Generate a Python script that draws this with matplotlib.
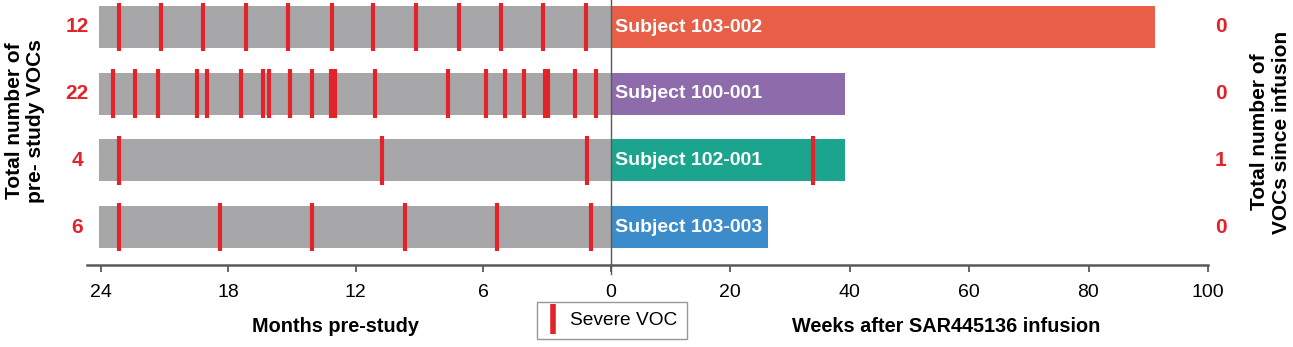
import matplotlib
matplotlib.use("Agg")
import matplotlib.pyplot as plt
from matplotlib.lines import Line2D

# data
subjects = ["Subject 103-002", "Subject 100-001", "Subject 102-001", "Subject 103-003"]
pre_counts = [12, 22, 4, 6]
post_counts = [0, 0, 1, 0]
pre_span = [24.1, 24.1, 24.1, 24.1]          # months of pre-study history
weeks_followup = [91.1, 39.2, 39.2, 26.4]    # weeks after infusion
pre_vocs = [
    [23.16, 21.14, 19.17, 17.14, 15.16, 13.13, 11.16, 9.15, 7.15, 5.16, 3.16, 1.15],
    [23.41, 22.38, 21.29, 19.46, 18.99, 17.38, 16.38, 16.10, 15.11, 14.07, 13.15,
     12.97, 11.11, 7.67, 5.84, 4.95, 4.05, 3.10, 3.00, 2.92, 1.69, 0.70],
    [23.16, 10.78, 1.09],
    [23.16, 18.40, 14.03, 9.66, 5.32, 0.94],
]
post_vocs = [[], [], [33.9], []]
month_ticks = [24, 18, 12, 6, 0]
week_ticks = [20, 40, 60, 80, 100]

colors = ["#E95E47", "#8E6BAA", "#1BA58E", "#3C8BCB"]
gray = "#A7A7A9"
red = "#E2232A"
plt.rcParams["font.family"] = ["Liberation Sans", "DejaVu Sans"]

W, H = 1293, 347
fig = plt.figure(figsize=(W / 100, H / 100), dpi=100)

ybot = 1 - 265 / H
axl = fig.add_axes([87 / W, ybot, (610.5 - 87) / W, 265 / H])
axr = fig.add_axes([610.5 / W, ybot, (1208 - 610.5) / W, 265 / H], sharey=axl)

rows = list(range(len(subjects)))
bh = 0.63
mh = 0.365

for i in rows:
    axl.barh(i, pre_span[i], left=0, height=bh, color=gray)
    axl.vlines(pre_vocs[i], i - mh, i + mh, color=red, lw=3.0)
    axr.barh(i, weeks_followup[i], left=0, height=bh, color=colors[i])
    if post_vocs[i]:
        axr.vlines(post_vocs[i], i - mh, i + mh, color=red, lw=3.0)
    axr.text(0.8, i, subjects[i], color="white", fontsize=14, fontweight="bold",
             va="center", ha="left")

axl.set_xlim(24.645, 0)
axr.set_xlim(0, 100)
axl.set_ylim(3.568, -0.405)

for ax, ticks in ((axl, month_ticks), (axr, week_ticks)):
    for s in ("top", "left", "right"):
        ax.spines[s].set_visible(False)
    ax.spines["bottom"].set_color("#595959")
    ax.spines["bottom"].set_linewidth(1.8)
    ax.set_yticks([])
    ax.set_xticks(ticks)
    ax.tick_params(axis="x", direction="out", length=5, width=1.3, color="#595959",
                   pad=9, labelsize=14)

# vertical line at time zero
axr.axvline(0, ymin=-0.035, ymax=1.0, color="#595959", lw=1.0, clip_on=False)

# count numbers
for i in rows:
    y = 1 - (27 + 66.7 * i) / H
    fig.text(77 / W, y, str(pre_counts[i]), color=red, fontsize=15, fontweight="bold",
             ha="center", va="center")
    fig.text(1221 / W, y, str(post_counts[i]), color=red, fontsize=15, fontweight="bold",
             ha="center", va="center")

fig.text(25 / W, 1 - 121 / H, "Total number of\npre- study VOCs", rotation=90,
         ha="center", va="center", multialignment="center", fontsize=15,
         fontweight="bold", linespacing=1.15)
fig.text(1270.5 / W, 1 - 132 / H, "Total number of\nVOCs since infusion", rotation=90,
         ha="center", va="center", multialignment="center", fontsize=15,
         fontweight="bold", linespacing=1.15)

fig.text(335 / W, 1 - 326 / H, "Months pre-study", fontsize=14.3, fontweight="bold",
         ha="center", va="center")
fig.text(946 / W, 1 - 326 / H, "Weeks after SAR445136 infusion", fontsize=14.3,
         fontweight="bold", ha="center", va="center")

handle = Line2D([], [], color=red, marker="|", linestyle="None", markersize=22,
                markeredgewidth=4)
leg = fig.legend([handle], ["Severe VOC"], loc="center",
                 bbox_to_anchor=(612 / W, 1 - 320.5 / H), frameon=True,
                 fancybox=False, edgecolor="#7F7F7F", handlelength=0.6,
                 handletextpad=0.6, borderpad=0.5, prop={"size": 13.8})
leg.get_frame().set_linewidth(1.0)

fig.savefig("out.png", dpi=100)
